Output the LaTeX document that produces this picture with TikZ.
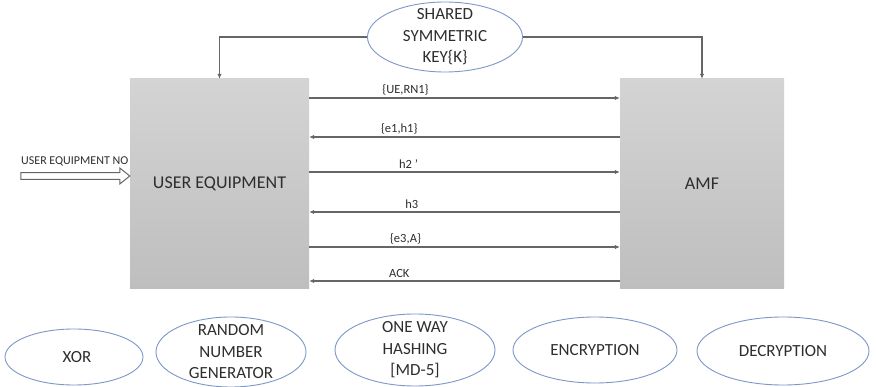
\documentclass[tikz,border=0pt]{standalone}
\usepackage{fontspec}
\setmainfont{Carlito}
\usetikzlibrary{arrows.meta,shapes.geometric,calc}
\definecolor{ink}{HTML}{2E2E2E}
\definecolor{wire}{HTML}{666666}
\definecolor{rim}{HTML}{7D97C9}
\definecolor{boxtop}{HTML}{D4D4D4}
\definecolor{boxbot}{HTML}{BEBEBE}
\begin{document}
\begin{tikzpicture}[x=1pt,y=-1pt,
  entity/.style={rectangle, minimum width=179pt, minimum height=210pt,
    top color=boxtop, bottom color=boxbot, inner sep=0pt,
    font=\fontsize{18}{22}\selectfont, text=ink},
  oval/.style={ellipse, draw=rim, line width=0.9pt, fill=white, inner sep=0pt},
  ovaltext/.style={align=center, font=\fontsize{17}{21.5}\selectfont, text=ink, inner sep=0pt},
  msg/.style={-{Latex[length=5pt,width=4.5pt]}, draw=wire, line width=1.3pt},
  lbl/.style={font=\fontsize{12.5}{15}\selectfont, text=ink, above, inner sep=2.5pt},
  hollow/.style={draw=wire, line width=1pt, fill=white, line join=miter}]
\useasboundingbox (0,0) rectangle (876,387);
\fill[white] (0,0) rectangle (876,387);

% the two parties
\node[entity] (ue) at (219.5,184) {USER EQUIPMENT};
\node[entity, minimum width=164pt] (amf) at (702,184) {AMF};

% shared key feeding both parties
\node[oval, minimum width=155pt, minimum height=70pt] (key) at (445,37) {};
\node[ovaltext] (keytxt) at (key) {SHARED\\SYMMETRIC\\KEY\{K\}};
\draw[msg] (key.west) -| (ue.north);
\draw[msg] (key.east) -| (amf.north);

% message exchange
\draw[msg] (ue.east |- 0,98)  -- node[lbl, pos=0.31] (m1) {\{UE,RN1\}} (amf.west |- 0,98);
\draw[msg] (amf.west |- 0,137) -- node[lbl, pos=0.71] (m2) {\{e1,h1\}} (ue.east |- 0,137);
\draw[msg] (ue.east |- 0,172) -- node[lbl, pos=0.32] (m3) {h2 ’} (amf.west |- 0,172);
\draw[msg] (amf.west |- 0,212) -- node[lbl, pos=0.67] (m4) {h3} (ue.east |- 0,212);
\draw[msg] (ue.east |- 0,247) -- node[lbl, pos=0.31] (m5) {\{e3,A\}} (amf.west |- 0,247);
\draw[msg] (amf.west |- 0,281) -- node[lbl, pos=0.71] (m6) {ACK} (ue.east |- 0,281);

% user equipment number input
\node[anchor=west, font=\fontsize{12}{14}\selectfont, text=ink, inner sep=0pt] (uen) at (21,161) {USER EQUIPMENT NO};
\coordinate (uein) at (ue.west |- 0,176);
\draw[hollow] ($(uein)+(-109,-3.3)$) -- ($(uein)+(-10,-3.3)$) -- ($(uein)+(-10,-8)$)
  -- (uein) -- ($(uein)+(-10,8)$) -- ($(uein)+(-10,3.3)$) -- ($(uein)+(-109,3.3)$) -- cycle;

% primitives used by the scheme
\node[oval, minimum width=138pt, minimum height=56pt] (xor) at (74,357) {};
\node[ovaltext] (xortxt) at (77,357) {XOR};
\node[oval, minimum width=150pt, minimum height=70pt] (rng) at (231,352) {};
\node[ovaltext] (rngtxt) at (rng) {RANDOM\\NUMBER\\GENERATOR};
\node[oval, minimum width=160pt, minimum height=72pt] (hash) at (415,350) {};
\node[ovaltext] (hashtxt) at (hash) {ONE WAY\\HASHING\\{[MD-5]}};
\node[oval, minimum width=164pt, minimum height=66pt] (enc) at (595,350) {};
\node[ovaltext] (enctxt) at (enc) {ENCRYPTION};
\node[oval, minimum width=172pt, minimum height=68pt] (dec) at (783,351) {};
\node[ovaltext] (dectxt) at (dec) {DECRYPTION};
\end{tikzpicture}
\end{document}
